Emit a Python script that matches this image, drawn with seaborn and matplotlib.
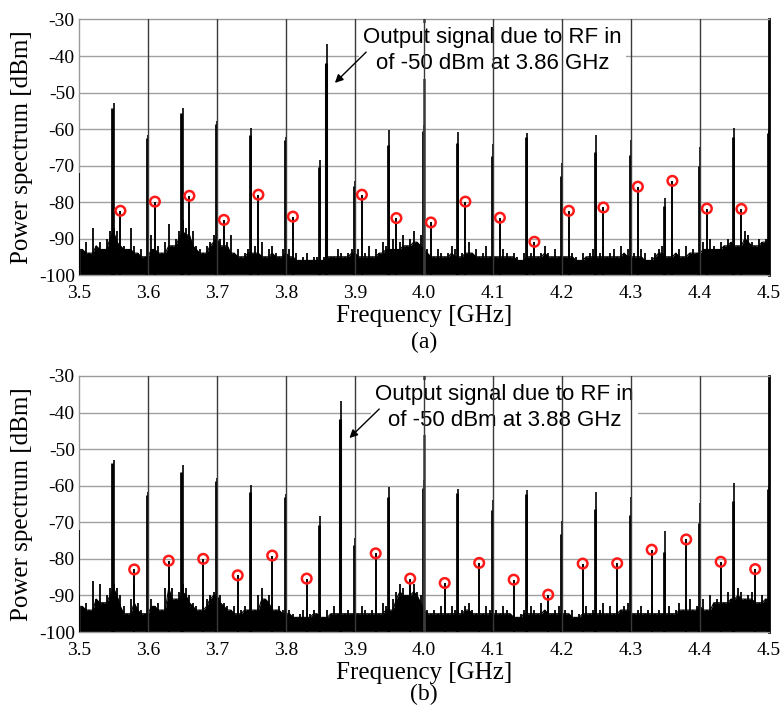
import numpy as np
import pandas as pd
import matplotlib
matplotlib.use("Agg")
import matplotlib.pyplot as plt
import seaborn as sns

# ---- data ----
freq_ticks = [3.5, 3.6, 3.7, 3.8, 3.9, 4.0, 4.1, 4.2, 4.3, 4.4, 4.5]
level_ticks = [-100, -90, -80, -70, -60, -50, -40, -30]

# harmonics of the 50 MHz comb
harm_freq = [3.50, 3.55, 3.60, 3.65, 3.70, 3.75, 3.80, 3.85, 3.90, 3.95, 4.00,
             4.05, 4.10, 4.15, 4.20, 4.25, 4.30, 4.35, 4.40, 4.45, 4.50]
harm_a_main = [-72.1, -53.0, -61.7, -54.3, -57.7, -59.8, -62.1, -68.5, -74.2, -60.3, -58.9,
               -60.7, -64.2, -61.0, -69.4, -61.7, -63.0, -79.0, -64.8, -59.6, -60.3]
harm_a_side = [-90.0, -54.3, -62.6, -55.7, -58.6, -61.6, -63.0, -70.5, -75.5, -64.4, -60.5,
               -63.9, -67.4, -62.2, -72.8, -66.2, -67.1, -81.0, -70.1, -62.1, -61.2]
harm_b_main = [-72.2, -52.9, -61.7, -54.4, -57.8, -59.7, -62.2, -68.3, -74.3, -60.4, -58.5,
               -60.8, -64.0, -61.1, -69.7, -61.7, -63.0, -72.4, -64.7, -59.3, -60.1]
harm_b_side = [-90.0, -53.8, -62.6, -56.2, -58.6, -61.7, -63.0, -70.7, -76.3, -63.1, -60.5,
               -62.0, -66.7, -62.2, -73.1, -66.3, -68.1, -78.0, -70.1, -64.3, -61.0]

# LO leakage at 4.0 GHz (off the top of the scale)
lo_freq = 4.0
lo_level = -25.0

# output signal due to RF in
sig_a_freq, sig_a_main, sig_a_side = 3.86, -36.8, -41.8
sig_b_freq, sig_b_main, sig_b_side = 3.88, -36.8, -41.7

# spurious tones marked with red circles
spur_a_freq = [3.56, 3.61, 3.66, 3.71, 3.76, 3.81, 3.91, 3.96, 4.01,
               4.06, 4.11, 4.16, 4.21, 4.26, 4.31, 4.36, 4.41, 4.46]
spur_a_level = [-82.4, -79.9, -78.3, -84.9, -78.0, -84.0, -78.0, -84.4, -85.6,
                -79.9, -84.3, -90.9, -82.4, -81.5, -75.8, -74.2, -81.8, -81.9]
spur_b_freq = [3.58, 3.63, 3.68, 3.73, 3.78, 3.83, 3.93, 3.98, 4.03,
               4.08, 4.13, 4.18, 4.23, 4.28, 4.33, 4.38, 4.43, 4.48]
spur_b_level = [-82.9, -80.5, -80.0, -84.5, -79.1, -85.4, -78.5, -85.4, -86.6,
                -81.1, -85.7, -89.8, -81.3, -81.2, -77.5, -74.7, -80.8, -82.8]

# noise floor, one value every 5 MHz from 3.500 to 4.500 GHz
noise_a = [
    -90, -93, -91, -94, -87, -92, -91, -93, -90, -88, -87, -88, -91, -92, -93, -87, -92, -94, -93, -95,
    -91, -89, -93, -92, -94, -91, -86, -92, -90, -88, -85, -87, -89, -88, -92, -93, -94, -92, -91, -89,
    -88, -90, -92, -91, -89, -94, -93, -95, -94, -93, -94, -92, -94, -91, -95, -93, -92, -94, -95, -93,
    -94, -93, -95, -94, -96, -95, -94, -96, -95, -95, -96, -95, -94, -95, -95, -93, -94, -95, -94, -93,
    -94, -93, -95, -94, -92, -95, -93, -94, -91, -92, -93, -90, -93, -91, -89, -92, -90, -88, -91, -89,
    -92, -93, -94, -95, -93, -94, -95, -94, -92, -93, -95, -94, -92, -91, -94, -93, -95, -94, -92, -95,
    -94, -95, -95, -93, -94, -95, -94, -95, -96, -94, -95, -94, -93, -95, -94, -92, -94, -95, -93, -95,
    -94, -95, -93, -94, -95, -96, -94, -95, -94, -93, -95, -94, -92, -95, -94, -93, -95, -92, -94, -93,
    -95, -94, -95, -93, -94, -96, -95, -94, -93, -92, -94, -95, -91, -94, -93, -95, -92, -94, -93, -94,
    -92, -91, -93, -90, -92, -93, -91, -92, -90, -91, -89, -92, -90, -88, -89, -91, -92, -90, -91, -90,
    -90,
]
noise_b = [
    -89, -93, -92, -94, -86, -91, -87, -92, -90, -88, -87, -88, -90, -93, -95, -91, -87, -92, -94, -95,
    -89, -91, -93, -92, -94, -88, -86, -88, -91, -89, -87, -88, -90, -92, -93, -94, -93, -91, -90, -89,
    -89, -90, -92, -93, -94, -93, -95, -94, -93, -94, -92, -94, -90, -88, -91, -90, -92, -94, -93, -94,
    -95, -94, -95, -96, -95, -94, -96, -95, -94, -95, -95, -96, -94, -95, -93, -95, -94, -95, -94, -95,
    -94, -95, -93, -94, -95, -94, -93, -95, -92, -93, -94, -91, -89, -87, -88, -90, -88, -87, -89, -90,
    -92, -94, -95, -94, -95, -93, -94, -95, -93, -94, -95, -94, -93, -92, -94, -95, -94, -95, -93, -94,
    -95, -94, -95, -93, -94, -95, -94, -96, -95, -94, -95, -93, -94, -95, -92, -94, -93, -95, -94, -93,
    -95, -94, -95, -94, -96, -95, -94, -93, -95, -94, -95, -94, -92, -95, -93, -95, -94, -94, -93, -92,
    -94, -95, -94, -93, -95, -94, -93, -95, -94, -95, -94, -93, -95, -94, -92, -94, -93, -91, -94, -93,
    -93, -91, -94, -90, -92, -91, -90, -92, -89, -91, -90, -88, -89, -91, -90, -89, -91, -92, -90, -91,
    -91,
]
noise_freq = np.round(np.linspace(3.5, 4.5, len(noise_a)), 3)

panels = [
    dict(noise=noise_a, hm=harm_a_main, hs=harm_a_side, sf=sig_a_freq, sm=sig_a_main, ss=sig_a_side,
         spf=spur_a_freq, spl=spur_a_level, note="Output signal due to RF in\nof -50 dBm at 3.86 GHz",
         note_xy=(4.099, -38.6), arrow_tail=(3.919, -38.4), arrow_head=(3.868, -47.9),
         tag="(a)", tag_y=-0.265),
    dict(noise=noise_b, hm=harm_b_main, hs=harm_b_side, sf=sig_b_freq, sm=sig_b_main, ss=sig_b_side,
         spf=spur_b_freq, spl=spur_b_level, note="Output signal due to RF in\nof -50 dBm at 3.88 GHz",
         note_xy=(4.117, -38.6), arrow_tail=(3.938, -38.5), arrow_head=(3.889, -47.5),
         tag="(b)", tag_y=-0.245),
]

sns.set_theme(style="white")
plt.rcParams["font.family"] = ["Liberation Serif", "DejaVu Serif"]
plt.rcParams["text.color"] = "black"
plt.rcParams["axes.labelcolor"] = "black"

fig = plt.figure(figsize=(7.83, 7.09), dpi=100)
ax_a = fig.add_axes([0.1009, 0.6121, 0.8812, 0.3604])
ax_b = fig.add_axes([0.1009, 0.1086, 0.8812, 0.3611])

for ax, p in zip([ax_a, ax_b], panels):
    df = pd.DataFrame({"freq": noise_freq, "level": p["noise"]})
    # solid floor up to the local minimum, thin spikes up to each sample
    df["floor"] = df["level"].rolling(3, center=True, min_periods=1).min()
    ax.fill_between(df["freq"], -100, df["floor"], color="black", lw=0, zorder=2)
    ax.vlines(df["freq"], -100, df["level"], color="black", lw=1.3, zorder=2)
    sns.lineplot(data=df, x="freq", y="floor", ax=ax, color="black", lw=0.8, zorder=2)

    # comb harmonics (tall thin line + slightly lower thick line)
    ax.vlines(harm_freq, -100, p["hm"], color="black", lw=1.2, zorder=3)
    ax.vlines(np.array(harm_freq) - 0.002, -100, p["hs"], color="black", lw=2.0, zorder=3)
    ax.vlines([lo_freq], -100, [lo_level], color="#444444", lw=1.8, zorder=3)

    # wanted output signal
    ax.vlines([p["sf"]], -100, [p["sm"]], color="black", lw=1.2, zorder=3)
    ax.vlines([p["sf"] - 0.002], -100, [p["ss"]], color="black", lw=2.2, zorder=3)

    # spurs with red circles
    ax.vlines(p["spf"], -100, p["spl"], color="black", lw=1.4, zorder=3)
    sns.scatterplot(x=p["spf"], y=p["spl"], ax=ax, marker="o", s=48,
                    facecolor="none", edgecolor="#ff1a1a", linewidth=1.8, zorder=5)

    ax.set_xlim(3.5, 4.5)
    ax.set_ylim(-100, -30)
    ax.set_xticks(freq_ticks)
    ax.set_xticklabels([f"{t:.1f}" for t in freq_ticks])
    ax.set_yticks(level_ticks)
    ax.set_yticklabels([str(t) for t in level_ticks])
    ax.tick_params(axis="both", length=0, labelsize=14, colors="black")
    ax.tick_params(axis="x", pad=7)
    ax.tick_params(axis="y", pad=3)

    # grid: horizontal lines light, vertical lines darker
    ax.grid(False)
    for y in level_ticks[1:-1]:
        ax.axhline(y, color="#a0a0a0", lw=1.0, zorder=1)
    for x in freq_ticks[1:-1]:
        ax.axvline(x, color="#3a3a3a", lw=1.0, zorder=4)

    for side in ["top", "left", "bottom"]:
        ax.spines[side].set_color("#9a9a9a")
        ax.spines[side].set_linewidth(1.0)
    ax.spines["right"].set_color("black")
    ax.spines["right"].set_linewidth(2.0)

    ax.set_xlabel("Frequency [GHz]", fontsize=18, labelpad=2)
    ax.set_ylabel("Power spectrum [dBm]", fontsize=18, labelpad=4)
    ax.text(0.5, p["tag_y"], p["tag"], transform=ax.transAxes, ha="center", va="center", fontsize=17)

    ax.text(p["note_xy"][0], p["note_xy"][1], p["note"], ha="center", va="center",
            fontsize=16, family=["Liberation Sans", "DejaVu Sans"], linespacing=1.3,
            bbox=dict(facecolor="white", edgecolor="none", pad=3), zorder=3.5)
    ax.annotate("", xy=p["arrow_head"], xytext=p["arrow_tail"],
                arrowprops=dict(arrowstyle="-|>", color="black", lw=1.0, mutation_scale=12),
                zorder=6)

fig.savefig("out.png", dpi=100)
